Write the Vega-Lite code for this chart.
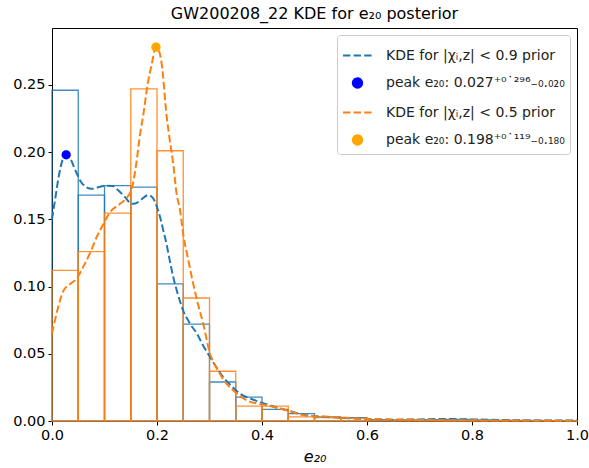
{
  "$schema": "https://vega.github.io/schema/vega-lite/v6.json",
  "width": 525,
  "height": 393,
  "autosize": {"type": "none"},
  "padding": {"left": 52, "top": 28, "right": 12, "bottom": 47},
  "title": {"text": "GW200208_22 KDE for e₂₀ posterior", "fontSize": 16, "fontWeight": "normal", "font": "DejaVu Sans", "color": "black", "offset": 6},
  "config": {
    "font": "DejaVu Sans",
    "view": {"stroke": "black", "strokeWidth": 1},
    "axis": {"grid": false, "domainColor": "black", "tickColor": "black", "labelColor": "black", "titleColor": "black", "labelFontSize": 14.5, "tickSize": 4, "labelPadding": 3, "titleFontWeight": "normal", "labelFlush": false}
  },
  "datasets": {
    "hist": [
      {"prior": "0.9", "b0": 0.00, "b1": 0.05, "h": 0.246},
      {"prior": "0.9", "b0": 0.05, "b1": 0.10, "h": 0.168},
      {"prior": "0.9", "b0": 0.10, "b1": 0.15, "h": 0.175},
      {"prior": "0.9", "b0": 0.15, "b1": 0.20, "h": 0.174},
      {"prior": "0.9", "b0": 0.20, "b1": 0.25, "h": 0.102},
      {"prior": "0.9", "b0": 0.25, "b1": 0.30, "h": 0.072},
      {"prior": "0.9", "b0": 0.30, "b1": 0.35, "h": 0.029},
      {"prior": "0.9", "b0": 0.35, "b1": 0.40, "h": 0.0178},
      {"prior": "0.9", "b0": 0.40, "b1": 0.45, "h": 0.0087},
      {"prior": "0.9", "b0": 0.45, "b1": 0.50, "h": 0.0055},
      {"prior": "0.9", "b0": 0.50, "b1": 0.55, "h": 0.003},
      {"prior": "0.9", "b0": 0.55, "b1": 0.60, "h": 0.0025},
      {"prior": "0.9", "b0": 0.60, "b1": 0.65, "h": 0.001},
      {"prior": "0.9", "b0": 0.65, "b1": 0.70, "h": 0.0008},
      {"prior": "0.9", "b0": 0.70, "b1": 0.75, "h": 0.001},
      {"prior": "0.9", "b0": 0.75, "b1": 0.80, "h": 0.0012},
      {"prior": "0.9", "b0": 0.80, "b1": 0.85, "h": 0.0008},
      {"prior": "0.9", "b0": 0.85, "b1": 0.90, "h": 0.0005},
      {"prior": "0.9", "b0": 0.90, "b1": 0.95, "h": 0.0004},
      {"prior": "0.9", "b0": 0.95, "b1": 1.00, "h": 0.0003},
      {"prior": "0.5", "b0": 0.00, "b1": 0.05, "h": 0.112},
      {"prior": "0.5", "b0": 0.05, "b1": 0.10, "h": 0.126},
      {"prior": "0.5", "b0": 0.10, "b1": 0.15, "h": 0.1546},
      {"prior": "0.5", "b0": 0.15, "b1": 0.20, "h": 0.247},
      {"prior": "0.5", "b0": 0.20, "b1": 0.25, "h": 0.201},
      {"prior": "0.5", "b0": 0.25, "b1": 0.30, "h": 0.0915},
      {"prior": "0.5", "b0": 0.30, "b1": 0.35, "h": 0.037},
      {"prior": "0.5", "b0": 0.35, "b1": 0.40, "h": 0.011},
      {"prior": "0.5", "b0": 0.40, "b1": 0.45, "h": 0.011},
      {"prior": "0.5", "b0": 0.45, "b1": 0.50, "h": 0.003},
      {"prior": "0.5", "b0": 0.50, "b1": 0.55, "h": 0.0025},
      {"prior": "0.5", "b0": 0.55, "b1": 0.60, "h": 0.002},
      {"prior": "0.5", "b0": 0.60, "b1": 0.65, "h": 0.0005},
      {"prior": "0.5", "b0": 0.65, "b1": 0.70, "h": 0.0005},
      {"prior": "0.5", "b0": 0.70, "b1": 0.75, "h": 0.0004},
      {"prior": "0.5", "b0": 0.75, "b1": 0.80, "h": 0.0004},
      {"prior": "0.5", "b0": 0.80, "b1": 0.85, "h": 0.0003},
      {"prior": "0.5", "b0": 0.85, "b1": 0.90, "h": 0.0003},
      {"prior": "0.5", "b0": 0.90, "b1": 0.95, "h": 0.0002},
      {"prior": "0.5", "b0": 0.95, "b1": 1.00, "h": 0.0002}
    ],
    "kde": [
      {"series": "KDE for |χᵢ,z| < 0.9 prior", "e": 0.0, "d": 0.150},
      {"series": "KDE for |χᵢ,z| < 0.9 prior", "e": 0.006, "d": 0.165},
      {"series": "KDE for |χᵢ,z| < 0.9 prior", "e": 0.012, "d": 0.180},
      {"series": "KDE for |χᵢ,z| < 0.9 prior", "e": 0.02, "d": 0.194},
      {"series": "KDE for |χᵢ,z| < 0.9 prior", "e": 0.027, "d": 0.198},
      {"series": "KDE for |χᵢ,z| < 0.9 prior", "e": 0.035, "d": 0.195},
      {"series": "KDE for |χᵢ,z| < 0.9 prior", "e": 0.045, "d": 0.186},
      {"series": "KDE for |χᵢ,z| < 0.9 prior", "e": 0.055, "d": 0.178},
      {"series": "KDE for |χᵢ,z| < 0.9 prior", "e": 0.065, "d": 0.174},
      {"series": "KDE for |χᵢ,z| < 0.9 prior", "e": 0.076, "d": 0.1727},
      {"series": "KDE for |χᵢ,z| < 0.9 prior", "e": 0.09, "d": 0.174},
      {"series": "KDE for |χᵢ,z| < 0.9 prior", "e": 0.101, "d": 0.175},
      {"series": "KDE for |χᵢ,z| < 0.9 prior", "e": 0.115, "d": 0.1748},
      {"series": "KDE for |χᵢ,z| < 0.9 prior", "e": 0.125, "d": 0.172},
      {"series": "KDE for |χᵢ,z| < 0.9 prior", "e": 0.139, "d": 0.1665},
      {"series": "KDE for |χᵢ,z| < 0.9 prior", "e": 0.152, "d": 0.1615},
      {"series": "KDE for |χᵢ,z| < 0.9 prior", "e": 0.16, "d": 0.162},
      {"series": "KDE for |χᵢ,z| < 0.9 prior", "e": 0.171, "d": 0.165},
      {"series": "KDE for |χᵢ,z| < 0.9 prior", "e": 0.183, "d": 0.168},
      {"series": "KDE for |χᵢ,z| < 0.9 prior", "e": 0.192, "d": 0.166},
      {"series": "KDE for |χᵢ,z| < 0.9 prior", "e": 0.2, "d": 0.159},
      {"series": "KDE for |χᵢ,z| < 0.9 prior", "e": 0.207, "d": 0.150},
      {"series": "KDE for |χᵢ,z| < 0.9 prior", "e": 0.212, "d": 0.1417},
      {"series": "KDE for |χᵢ,z| < 0.9 prior", "e": 0.218, "d": 0.132},
      {"series": "KDE for |χᵢ,z| < 0.9 prior", "e": 0.224, "d": 0.120},
      {"series": "KDE for |χᵢ,z| < 0.9 prior", "e": 0.231, "d": 0.107},
      {"series": "KDE for |χᵢ,z| < 0.9 prior", "e": 0.24, "d": 0.094},
      {"series": "KDE for |χᵢ,z| < 0.9 prior", "e": 0.25, "d": 0.082},
      {"series": "KDE for |χᵢ,z| < 0.9 prior", "e": 0.262, "d": 0.073},
      {"series": "KDE for |χᵢ,z| < 0.9 prior", "e": 0.276, "d": 0.065},
      {"series": "KDE for |χᵢ,z| < 0.9 prior", "e": 0.288, "d": 0.056},
      {"series": "KDE for |χᵢ,z| < 0.9 prior", "e": 0.301, "d": 0.0476},
      {"series": "KDE for |χᵢ,z| < 0.9 prior", "e": 0.313, "d": 0.040},
      {"series": "KDE for |χᵢ,z| < 0.9 prior", "e": 0.326, "d": 0.0327},
      {"series": "KDE for |χᵢ,z| < 0.9 prior", "e": 0.342, "d": 0.026},
      {"series": "KDE for |χᵢ,z| < 0.9 prior", "e": 0.358, "d": 0.0203},
      {"series": "KDE for |χᵢ,z| < 0.9 prior", "e": 0.376, "d": 0.017},
      {"series": "KDE for |χᵢ,z| < 0.9 prior", "e": 0.396, "d": 0.0141},
      {"series": "KDE for |χᵢ,z| < 0.9 prior", "e": 0.42, "d": 0.011},
      {"series": "KDE for |χᵢ,z| < 0.9 prior", "e": 0.447, "d": 0.008},
      {"series": "KDE for |χᵢ,z| < 0.9 prior", "e": 0.485, "d": 0.0042},
      {"series": "KDE for |χᵢ,z| < 0.9 prior", "e": 0.536, "d": 0.0027},
      {"series": "KDE for |χᵢ,z| < 0.9 prior", "e": 0.6, "d": 0.0015},
      {"series": "KDE for |χᵢ,z| < 0.9 prior", "e": 0.65, "d": 0.001},
      {"series": "KDE for |χᵢ,z| < 0.9 prior", "e": 0.7, "d": 0.0012},
      {"series": "KDE for |χᵢ,z| < 0.9 prior", "e": 0.75, "d": 0.0015},
      {"series": "KDE for |χᵢ,z| < 0.9 prior", "e": 0.8, "d": 0.0012},
      {"series": "KDE for |χᵢ,z| < 0.9 prior", "e": 0.9, "d": 0.0005},
      {"series": "KDE for |χᵢ,z| < 0.9 prior", "e": 1.0, "d": 0.0003},
      {"series": "KDE for |χᵢ,z| < 0.5 prior", "e": 0.0, "d": 0.065},
      {"series": "KDE for |χᵢ,z| < 0.5 prior", "e": 0.01, "d": 0.082},
      {"series": "KDE for |χᵢ,z| < 0.5 prior", "e": 0.022, "d": 0.097},
      {"series": "KDE for |χᵢ,z| < 0.5 prior", "e": 0.035, "d": 0.102},
      {"series": "KDE for |χᵢ,z| < 0.5 prior", "e": 0.047, "d": 0.106},
      {"series": "KDE for |χᵢ,z| < 0.5 prior", "e": 0.06, "d": 0.115},
      {"series": "KDE for |χᵢ,z| < 0.5 prior", "e": 0.072, "d": 0.1245},
      {"series": "KDE for |χᵢ,z| < 0.5 prior", "e": 0.085, "d": 0.1367},
      {"series": "KDE for |χᵢ,z| < 0.5 prior", "e": 0.098, "d": 0.1466},
      {"series": "KDE for |χᵢ,z| < 0.5 prior", "e": 0.11, "d": 0.155},
      {"series": "KDE for |χᵢ,z| < 0.5 prior", "e": 0.1295, "d": 0.1615},
      {"series": "KDE for |χᵢ,z| < 0.5 prior", "e": 0.14, "d": 0.165},
      {"series": "KDE for |χᵢ,z| < 0.5 prior", "e": 0.152, "d": 0.173},
      {"series": "KDE for |χᵢ,z| < 0.5 prior", "e": 0.16, "d": 0.19},
      {"series": "KDE for |χᵢ,z| < 0.5 prior", "e": 0.168, "d": 0.214},
      {"series": "KDE for |χᵢ,z| < 0.5 prior", "e": 0.174, "d": 0.228},
      {"series": "KDE for |χᵢ,z| < 0.5 prior", "e": 0.182, "d": 0.25},
      {"series": "KDE for |χᵢ,z| < 0.5 prior", "e": 0.19, "d": 0.2655},
      {"series": "KDE for |χᵢ,z| < 0.5 prior", "e": 0.198, "d": 0.278},
      {"series": "KDE for |χᵢ,z| < 0.5 prior", "e": 0.204, "d": 0.275},
      {"series": "KDE for |χᵢ,z| < 0.5 prior", "e": 0.209, "d": 0.2655},
      {"series": "KDE for |χᵢ,z| < 0.5 prior", "e": 0.218, "d": 0.228},
      {"series": "KDE for |χᵢ,z| < 0.5 prior", "e": 0.224, "d": 0.21},
      {"series": "KDE for |χᵢ,z| < 0.5 prior", "e": 0.231, "d": 0.191},
      {"series": "KDE for |χᵢ,z| < 0.5 prior", "e": 0.237, "d": 0.17},
      {"series": "KDE for |χᵢ,z| < 0.5 prior", "e": 0.244, "d": 0.1565},
      {"series": "KDE for |χᵢ,z| < 0.5 prior", "e": 0.25, "d": 0.139},
      {"series": "KDE for |χᵢ,z| < 0.5 prior", "e": 0.26, "d": 0.119},
      {"series": "KDE for |χᵢ,z| < 0.5 prior", "e": 0.269, "d": 0.102},
      {"series": "KDE for |χᵢ,z| < 0.5 prior", "e": 0.278, "d": 0.087},
      {"series": "KDE for |χᵢ,z| < 0.5 prior", "e": 0.288, "d": 0.0724},
      {"series": "KDE for |χᵢ,z| < 0.5 prior", "e": 0.301, "d": 0.05},
      {"series": "KDE for |χᵢ,z| < 0.5 prior", "e": 0.31, "d": 0.042},
      {"series": "KDE for |χᵢ,z| < 0.5 prior", "e": 0.32, "d": 0.035},
      {"series": "KDE for |χᵢ,z| < 0.5 prior", "e": 0.332, "d": 0.028},
      {"series": "KDE for |χᵢ,z| < 0.5 prior", "e": 0.345, "d": 0.0228},
      {"series": "KDE for |χᵢ,z| < 0.5 prior", "e": 0.371, "d": 0.0154},
      {"series": "KDE for |χᵢ,z| < 0.5 prior", "e": 0.39, "d": 0.013},
      {"series": "KDE for |χᵢ,z| < 0.5 prior", "e": 0.409, "d": 0.0117},
      {"series": "KDE for |χᵢ,z| < 0.5 prior", "e": 0.447, "d": 0.008},
      {"series": "KDE for |χᵢ,z| < 0.5 prior", "e": 0.485, "d": 0.004},
      {"series": "KDE for |χᵢ,z| < 0.5 prior", "e": 0.536, "d": 0.003},
      {"series": "KDE for |χᵢ,z| < 0.5 prior", "e": 0.6, "d": 0.0015},
      {"series": "KDE for |χᵢ,z| < 0.5 prior", "e": 0.7, "d": 0.0008},
      {"series": "KDE for |χᵢ,z| < 0.5 prior", "e": 0.8, "d": 0.0005},
      {"series": "KDE for |χᵢ,z| < 0.5 prior", "e": 0.9, "d": 0.0003},
      {"series": "KDE for |χᵢ,z| < 0.5 prior", "e": 1.0, "d": 0.0002}
    ],
    "peaks": [
      {"series": "peak e₂₀: 0.027⁺⁰˙²⁹⁶₋₀.₀₂₀", "e": 0.027, "d": 0.198},
      {"series": "peak e₂₀: 0.198⁺⁰˙¹¹⁹₋₀.₁₈₀", "e": 0.198, "d": 0.278}
    ]
  },
  "layer": [
    {
      "data": {"name": "hist"},
      "transform": [{"filter": "datum.prior === '0.9'"}],
      "mark": {"type": "rect", "filled": false, "stroke": "#1f77b4", "strokeWidth": 1.3, "strokeOpacity": 0.85},
      "encoding": {
        "x": {"field": "b0", "type": "quantitative", "scale": {"domain": [0, 1], "nice": false}, "axis": {"values": [0, 0.2, 0.4, 0.6, 0.8, 1.0], "format": ".1f", "title": "e₂₀", "titleFontSize": 16, "titleFontStyle": "italic", "titlePadding": 7}},
        "x2": {"field": "b1"},
        "y": {"field": "h", "type": "quantitative", "scale": {"domain": [0, 0.2923], "nice": false}, "axis": {"values": [0, 0.05, 0.1, 0.15, 0.2, 0.25], "format": ".2f", "title": null}},
        "y2": {"datum": 0}
      }
    },
    {
      "data": {"name": "hist"},
      "transform": [{"filter": "datum.prior === '0.5'"}],
      "mark": {"type": "rect", "filled": false, "stroke": "#ff7f0e", "strokeWidth": 1.3, "strokeOpacity": 0.85},
      "encoding": {
        "x": {"field": "b0", "type": "quantitative"},
        "x2": {"field": "b1"},
        "y": {"field": "h", "type": "quantitative"},
        "y2": {"datum": 0}
      }
    },
    {
      "data": {"name": "kde"},
      "mark": {"type": "line", "strokeWidth": 2, "interpolate": "monotone"},
      "encoding": {
        "x": {"field": "e", "type": "quantitative"},
        "y": {"field": "d", "type": "quantitative"},
        "strokeDash": {
          "field": "series", "type": "nominal",
          "scale": {
            "domain": ["KDE for |χᵢ,z| < 0.9 prior", "peak e₂₀: 0.027⁺⁰˙²⁹⁶₋₀.₀₂₀", "KDE for |χᵢ,z| < 0.5 prior", "peak e₂₀: 0.198⁺⁰˙¹¹⁹₋₀.₁₈₀"],
            "range": [[7.4, 3.2], [1, 0], [7.4, 3.2], [1, 0]]
          },
          "legend": {"title": null}
        },
        "color": {
          "field": "series", "type": "nominal",
          "scale": {
            "domain": ["KDE for |χᵢ,z| < 0.9 prior", "peak e₂₀: 0.027⁺⁰˙²⁹⁶₋₀.₀₂₀", "KDE for |χᵢ,z| < 0.5 prior", "peak e₂₀: 0.198⁺⁰˙¹¹⁹₋₀.₁₈₀"],
            "range": ["#1f77b4", "#0000ff", "#ff7f0e", "#ffa500"]
          },
          "legend": {
            "title": null, "orient": "top-right", "offset": 7,
            "fillColor": "white", "strokeColor": "#cccccc", "cornerRadius": 3, "padding": 5,
            "symbolSize": 841,
            "labelFontSize": 14, "labelOffset": 13, "rowPadding": 4.5, "labelLimit": 400, "labelColor": "#222222",
            "encode": {
              "symbols": {
                "update": {
                  "fill": {"scale": "color", "field": "value"},
                  "stroke": {"scale": "color", "field": "value"},
                  "strokeWidth": {"value": 2},
                  "opacity": {"value": 1}
                }
              }
            }
          }
        }
      }
    },
    {
      "data": {"name": "peaks"},
      "mark": {"type": "point", "filled": true, "opacity": 1, "size": 841},
      "encoding": {
        "x": {"field": "e", "type": "quantitative"},
        "y": {"field": "d", "type": "quantitative"},
        "color": {"field": "series", "type": "nominal"},
        "shape": {
          "field": "series", "type": "nominal",
          "scale": {
            "domain": ["KDE for |χᵢ,z| < 0.9 prior", "peak e₂₀: 0.027⁺⁰˙²⁹⁶₋₀.₀₂₀", "KDE for |χᵢ,z| < 0.5 prior", "peak e₂₀: 0.198⁺⁰˙¹¹⁹₋₀.₁₈₀"],
            "range": ["stroke", "M-0.32,0A0.32,0.32,0,1,0,0.32,0A0.32,0.32,0,1,0,-0.32,0Z", "stroke", "M-0.32,0A0.32,0.32,0,1,0,0.32,0A0.32,0.32,0,1,0,-0.32,0Z"]
          },
          "legend": {"title": null}
        }
      }
    }
  ]
}
